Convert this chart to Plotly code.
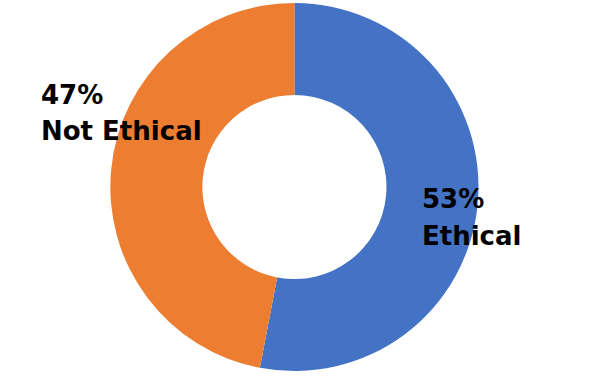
import plotly.graph_objects as go

labels = ["Ethical", "Not Ethical"]
values = [53, 47]
colors = ["#4472C4", "#ED7D31"]

fig = go.Figure(go.Pie(
    labels=labels, values=values, hole=0.5, sort=False, direction="clockwise",
    rotation=0, textinfo="none", hoverinfo="label+percent",
    marker=dict(colors=colors, line=dict(width=0)),
    domain=dict(x=[0.187, 0.811], y=[0.015, 0.993]),
    showlegend=False,
))

font = dict(family="DejaVu Sans", size=26, color="black", weight="bold")

def add_line(text, x, y):
    fig.add_annotation(text=text, x=x/590, y=1-y/377, xref="paper", yref="paper",
                       xanchor="left", yanchor="middle", align="left",
                       showarrow=False, font=font)

add_line(f"{values[1]}%", 39, 95)
add_line(labels[1], 39, 131)
add_line(f"{values[0]}%", 420, 199)
add_line(labels[0], 420, 236)

fig.update_layout(width=590, height=377, margin=dict(l=0, r=0, t=0, b=0),
                  paper_bgcolor="white", plot_bgcolor="white")
fig.write_html("out.html")
